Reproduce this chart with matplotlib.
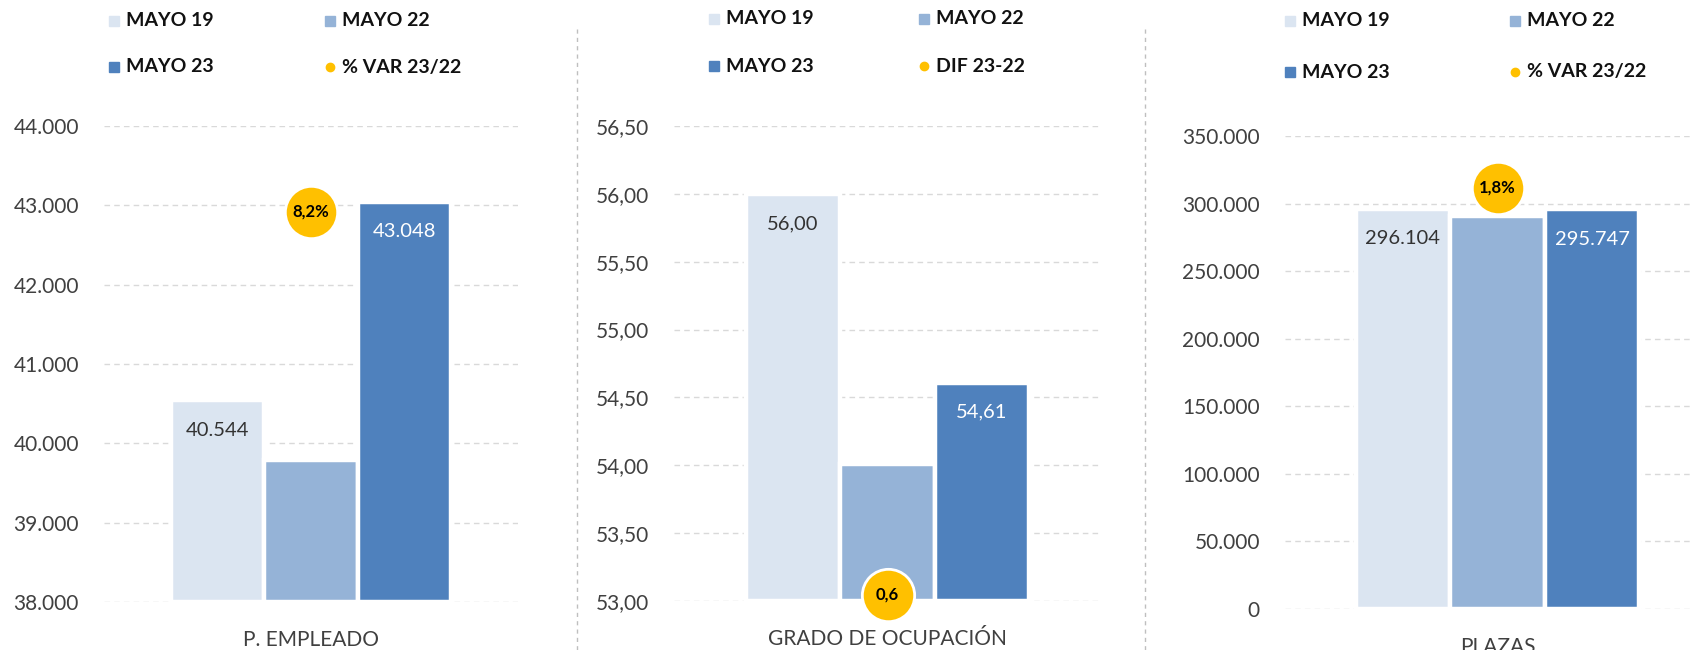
import matplotlib
matplotlib.use("Agg")
import matplotlib.pyplot as plt
from matplotlib.lines import Line2D
import numpy as np

plt.rcParams['font.family'] = ['Lato', 'DejaVu Sans']

# ---------------- data ----------------
series = ["MAYO 19", "MAYO 22", "MAYO 23"]
colors = ["#DBE5F1", "#95B3D7", "#4F81BD"]
bubble_color = "#FFC000"

empleado = [40544, 39785, 43048]
empleado_var = 8.2
empleado_ticks = [38000, 39000, 40000, 41000, 42000, 43000, 44000]

ocupacion = [56.00, 54.01, 54.61]
ocupacion_dif = 0.6
ocupacion_ticks = [53.0, 53.5, 54.0, 54.5, 55.0, 55.5, 56.0, 56.5]

plazas = [296104, 290518, 295747]
plazas_var = 1.8
plazas_ticks = [0, 50000, 100000, 150000, 200000, 250000, 300000, 350000]

W, H = 1693, 650
fig = plt.figure(figsize=(W / 100, H / 100), dpi=100)


def fx(px):
    return px / W


def fy(py):
    return 1 - py / H


def thousands(v):
    return f"{v:,.0f}".replace(",", ".")


def dec2(v):
    return f"{v:.2f}".replace(".", ",")


def make_panel(left, right, top, bottom, values, ticks, ylim, fmt, cat,
               bub_val, bub_txt, bub_lim, spacing):
    ax = fig.add_axes([fx(left), fy(bottom), fx(right - left), (bottom - top) / H])
    half = (right - left) / 2 / spacing
    x = np.array([-1, 0, 1])
    ax.bar(x, [v - ylim[0] for v in values], bottom=ylim[0], width=1.0,
           color=colors, edgecolor="white", linewidth=3.2, zorder=3)
    ax.set_xlim(-half, half)
    ax.set_ylim(*ylim)
    ax.set_yticks(ticks)
    ax.set_yticklabels([fmt(t) for t in ticks])
    ax.yaxis.grid(True, color="#D9D9D9", linestyle=(0, (4, 3)), linewidth=1.0, zorder=0)
    ax.set_axisbelow(True)
    for s in ax.spines.values():
        s.set_visible(False)
    ax.tick_params(axis="y", length=0, pad=18, labelsize=15, labelcolor="#404040")
    ax.set_xticks([0])
    ax.set_xticklabels([cat])
    ax.tick_params(axis="x", length=0, pad=20, labelsize=15, labelcolor="#404040")
    # value labels on MAYO 19 and MAYO 23
    for i, tc in ((0, "#333333"), (2, "white")):
        ax.annotate(fmt(values[i]), (x[i], values[i]), xytext=(0, -21.5),
                    textcoords="offset points", ha="center", va="center",
                    fontsize=14.5, color=tc, zorder=5)
    # bubble on a secondary axis
    ax2 = ax.twinx()
    ax2.set_ylim(*bub_lim)
    ax2.set_xlim(-half, half)
    ax2.axis("off")
    ax2.scatter([0], [bub_val], s=1420, color=bubble_color, edgecolor="white",
                linewidth=2, zorder=6, clip_on=False)
    ax2.text(0, bub_val, bub_txt, ha="center", va="center", fontsize=12,
             fontweight="bold", color="black", zorder=7)
    return ax


make_panel(104, 518, 126, 602, empleado, empleado_ticks, (38000, 44000), thousands,
           "P. EMPLEADO", empleado_var, f"{empleado_var:.1f}".replace(".", ",") + "%",
           (0, 10), 93.5)
make_panel(674, 1101, 126, 601, ocupacion, ocupacion_ticks, (53.0, 56.5), dec2,
           "GRADO DE OCUPACIÓN", ocupacion_dif, f"{ocupacion_dif:.1f}".replace(".", ","),
           (0.5, 8.0), 94.5)
make_panel(1285, 1710, 136, 609, plazas, plazas_ticks, (0, 350000), thousands,
           "PLAZAS", plazas_var, f"{plazas_var:.1f}".replace(".", ",") + "%",
           (0, 2.02), 94.5)

# legends (manual)
legend_layout = [
    # col1 marker x, col2 marker x, row1 y, row2 y, last label
    (114, 330, 21, 67, "% VAR 23/22"),
    (714, 924, 19, 66, "DIF 23-22"),
    (1290, 1515, 21, 72, "% VAR 23/22"),
]
for c1, c2, r1, r2, lastlab in legend_layout:
    entries = [
        (c1, r1, "s", colors[0], series[0]),
        (c2, r1, "s", colors[1], series[1]),
        (c1, r2, "s", colors[2], series[2]),
        (c2, r2, "o", bubble_color, lastlab),
    ]
    for mx, my, mk, col, lab in entries:
        fig.add_artist(Line2D([fx(mx)], [fy(my)], marker=mk, markersize=6.5 if mk == "s" else 6,
                              color=col, linestyle="none", transform=fig.transFigure))
        fig.text(fx(mx + 12), fy(my), lab, ha="left", va="center", fontsize=14,
                 fontweight="bold", color="#111111")

# separators
for sx in (577, 1145):
    fig.add_artist(Line2D([fx(sx), fx(sx)], [fy(29), fy(650)], color="#BFBFBF",
                          linestyle=(0, (3, 3)), linewidth=1.0, transform=fig.transFigure))

fig.savefig("out.png", dpi=100)
